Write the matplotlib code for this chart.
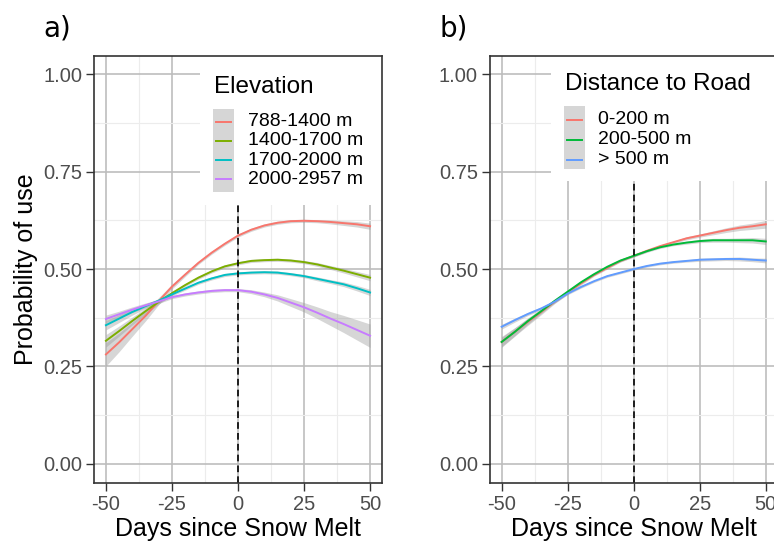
import matplotlib.pyplot as plt
from matplotlib.patches import Rectangle

plt.rcParams['font.family'] = ['Liberation Sans', 'DejaVu Sans']

days = [-50, -45, -40, -35, -30, -25, -20, -15, -10, -5, 0,
        5, 10, 15, 20, 25, 30, 35, 40, 45, 50]

# panel a: elevation classes
elev_labels = ['788-1400 m', '1400-1700 m', '1700-2000 m', '2000-2957 m']
elev_colors = ['#F8766D', '#7CAE00', '#00BFC4', '#C77CFF']
elev_fit = [
    [0.281, 0.312, 0.346, 0.380, 0.418, 0.455, 0.486, 0.516, 0.542, 0.565, 0.586,
     0.601, 0.612, 0.619, 0.623, 0.624, 0.623, 0.621, 0.618, 0.615, 0.610],
    [0.316, 0.341, 0.367, 0.392, 0.416, 0.438, 0.459, 0.478, 0.494, 0.507, 0.515,
     0.521, 0.523, 0.524, 0.522, 0.518, 0.512, 0.504, 0.496, 0.487, 0.478],
    [0.356, 0.373, 0.390, 0.405, 0.419, 0.435, 0.450, 0.465, 0.476, 0.485, 0.489,
     0.491, 0.492, 0.491, 0.487, 0.482, 0.475, 0.468, 0.461, 0.451, 0.440],
    [0.372, 0.384, 0.396, 0.407, 0.417, 0.428, 0.435, 0.440, 0.444, 0.446, 0.446,
     0.442, 0.435, 0.426, 0.414, 0.402, 0.388, 0.373, 0.359, 0.344, 0.329],
]
elev_se = [
    [0.030, 0.024, 0.018, 0.013, 0.009, 0.006, 0.005, 0.004, 0.004, 0.004, 0.004,
     0.004, 0.004, 0.004, 0.004, 0.004, 0.004, 0.005, 0.006, 0.007, 0.008],
    [0.016, 0.013, 0.010, 0.008, 0.006, 0.005, 0.004, 0.004, 0.004, 0.004, 0.004,
     0.004, 0.004, 0.004, 0.004, 0.004, 0.005, 0.005, 0.006, 0.007, 0.008],
    [0.012, 0.010, 0.008, 0.006, 0.005, 0.004, 0.004, 0.004, 0.004, 0.004, 0.004,
     0.004, 0.004, 0.004, 0.004, 0.004, 0.005, 0.005, 0.006, 0.007, 0.008],
    [0.010, 0.008, 0.007, 0.006, 0.005, 0.004, 0.004, 0.004, 0.004, 0.004, 0.004,
     0.005, 0.006, 0.008, 0.010, 0.012, 0.015, 0.018, 0.022, 0.026, 0.030],
]

# panel b: distance to road
road_labels = ['0-200 m', '200-500 m', '> 500 m']
road_colors = ['#F8766D', '#00BA38', '#619CFF']
road_fit = [
    [0.313, 0.339, 0.365, 0.390, 0.416, 0.440, 0.463, 0.485, 0.503, 0.521, 0.534,
     0.547, 0.559, 0.569, 0.579, 0.586, 0.593, 0.600, 0.606, 0.610, 0.615],
    [0.313, 0.339, 0.367, 0.392, 0.418, 0.442, 0.466, 0.487, 0.506, 0.522, 0.534,
     0.546, 0.556, 0.563, 0.568, 0.572, 0.574, 0.574, 0.574, 0.574, 0.571],
    [0.352, 0.369, 0.385, 0.399, 0.416, 0.437, 0.454, 0.469, 0.482, 0.491, 0.500,
     0.508, 0.514, 0.518, 0.521, 0.524, 0.525, 0.526, 0.526, 0.524, 0.522],
]
road_se = [
    [0.014, 0.011, 0.009, 0.007, 0.005, 0.004, 0.004, 0.003, 0.003, 0.003, 0.003,
     0.003, 0.003, 0.003, 0.004, 0.004, 0.005, 0.006, 0.007, 0.008, 0.010],
    [0.012, 0.010, 0.008, 0.006, 0.005, 0.004, 0.003, 0.003, 0.003, 0.003, 0.003,
     0.003, 0.003, 0.003, 0.004, 0.004, 0.005, 0.005, 0.006, 0.007, 0.008],
    [0.006, 0.005, 0.004, 0.004, 0.003, 0.003, 0.003, 0.003, 0.003, 0.003, 0.003,
     0.003, 0.003, 0.003, 0.003, 0.004, 0.004, 0.004, 0.005, 0.005, 0.006],
]

W, H = 774, 544
fig = plt.figure(figsize=(W / 100, H / 100), dpi=100)


def fx(x):
    return x / W


def fy(y):
    return 1 - y / H


def draw_panel(left, fits, ses, colors, labels, title, leg):
    ax = fig.add_axes([fx(left), fy(482.6), 287.4 / W, 427 / H])
    for fit, se, col in zip(fits, ses, colors):
        lo = [f - s for f, s in zip(fit, se)]
        hi = [f + s for f, s in zip(fit, se)]
        ax.fill_between(days, lo, hi, color='#999999', alpha=0.4, lw=0, zorder=2)
        ax.plot(days, fit, color=col, lw=1.4, zorder=2.2)
    ax.axvline(0, color='black', lw=1.2, ls=(0, (4, 2.5)), zorder=2.5)

    ax.set_xlim(-54.4, 54.4)
    ax.set_ylim(-0.048, 1.048)
    ax.set_xticks([-50, -25, 0, 25, 50])
    ax.set_xticklabels(['-50', '-25', '0', '25', '50'])
    ax.set_yticks([0, 0.25, 0.5, 0.75, 1.0])
    ax.set_yticklabels(['0.00', '0.25', '0.50', '0.75', '1.00'])
    ax.set_xticks([-37.5, -12.5, 12.5, 37.5], minor=True)
    ax.set_yticks([0.125, 0.375, 0.625, 0.875], minor=True)
    ax.tick_params(which='major', length=5.8, width=1.0, color='#333333',
                   labelcolor='#4D4D4D', labelsize=14.5, pad=3)
    ax.tick_params(which='minor', length=0)
    ax.grid(which='major', color='#BDBDBD', lw=1.2)
    ax.grid(which='minor', color='#ECECEC', lw=0.8)
    ax.set_axisbelow(True)
    for s in ax.spines.values():
        s.set_color('#333333')
        s.set_linewidth(1.2)
        s.set_zorder(10)
    ax.set_xlabel('Days since Snow Melt', fontsize=18, labelpad=2)

    # legend drawn inside the panel, ggplot style
    x0, y1, tx, ty, kx, ky0, ky1, lx, rows, bottom = leg
    ax.add_patch(Rectangle((fx(x0), fy(bottom)), fx(800) - fx(x0), fy(50) - fy(bottom),
                           transform=fig.transFigure, facecolor='white',
                           edgecolor='none', zorder=5))
    ax.text(fx(tx), fy(ty), title, transform=fig.transFigure, fontsize=17.5,
            ha='left', va='center', zorder=6)
    ax.add_patch(Rectangle((fx(kx), fy(ky1)), 21 / W, (ky1 - ky0) / H,
                           transform=fig.transFigure, facecolor='#999999',
                           alpha=0.4, edgecolor='none', zorder=6))
    for r, col, lab in zip(rows, colors, labels):
        ax.plot([fx(kx + 3), fx(kx + 18)], [fy(r), fy(r)], color=col, lw=1.4,
                transform=fig.transFigure, zorder=7, clip_on=False)
        ax.text(fx(lx), fy(r), lab, transform=fig.transFigure, fontsize=14,
                ha='left', va='center', zorder=7)
    return ax


ax1 = draw_panel(94.3, elev_fit, elev_se, elev_colors, elev_labels, 'Elevation',
                 (200, 55, 214, 87, 213, 109, 192, 248,
                  [121.5, 140.8, 160.1, 179.4], 205))
ax1.set_ylabel('Probability of use', fontsize=18, labelpad=4)

ax2 = draw_panel(490, road_fit, road_se, road_colors, road_labels, 'Distance to Road',
                 (551, 55, 565, 84.5, 564, 106, 169, 598,
                  [120, 140, 159.8], 180.6))

fig.text(fx(43), fy(28), 'a)', fontsize=20, family='DejaVu Sans', ha='left', va='center')
fig.text(fx(440), fy(28), 'b)', fontsize=20, family='DejaVu Sans', ha='left', va='center')

fig.savefig('out.png', dpi=100)
